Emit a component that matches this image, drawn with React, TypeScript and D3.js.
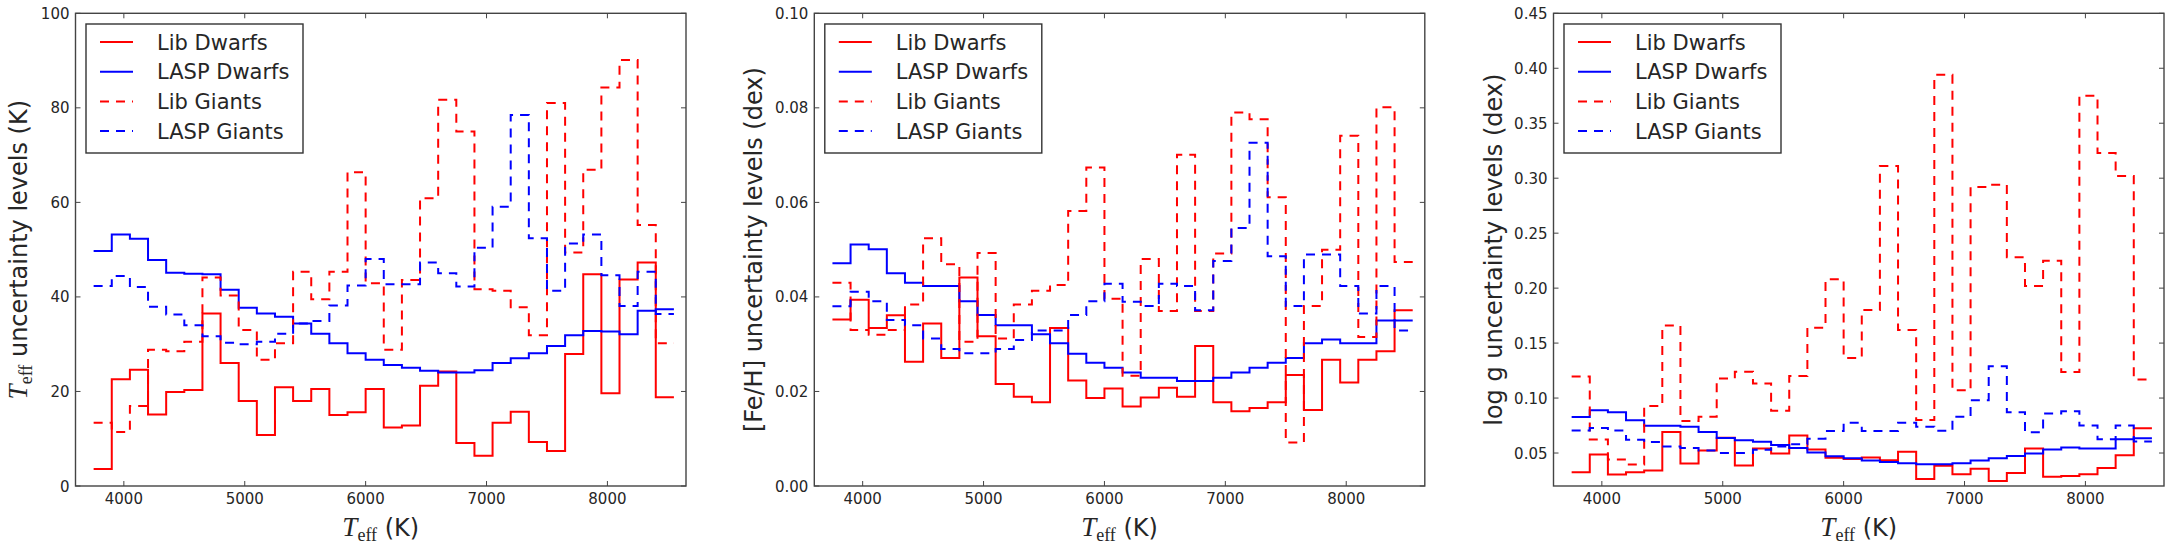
import * as d3 from "d3"

// bin edges (K) shared by all three panels
const TEFF_EDGES = [
  3750, 3900, 4050, 4200, 4350, 4500, 4650, 4800, 4950, 5100, 5250, 5400, 5550,
  5700, 5850, 6000, 6150, 6300, 6450, 6600, 6750, 6900, 7050, 7200, 7350, 7500,
  7650, 7800, 7950, 8100, 8250, 8400, 8550,
]
const X_TICKS = [4000, 5000, 6000, 7000, 8000]

// Teff panel (K)
const libDwarfsTeff = [3.6, 22.6, 24.6, 15.1, 19.9, 20.3, 36.5, 26.0, 18.0, 10.8, 20.9, 18.0, 20.5, 15.0, 15.6, 20.5, 12.4, 12.8, 21.2, 24.2, 9.1, 6.4, 13.4, 15.7, 9.3, 7.4, 27.9, 44.8, 19.6, 43.7, 47.3, 18.8]
const laspDwarfsTeff = [49.7, 53.2, 52.3, 47.8, 45.1, 44.9, 44.8, 41.5, 37.7, 36.5, 35.8, 34.4, 32.2, 30.2, 28.1, 26.7, 25.6, 25.0, 24.4, 24.0, 24.0, 24.5, 26.0, 27.0, 28.1, 29.6, 31.9, 32.8, 32.7, 32.1, 37.1, 37.4]
const libGiantsTeff = [13.4, 11.4, 16.9, 28.8, 28.5, 30.5, 44.1, 40.3, 33.0, 26.7, 30.2, 45.3, 39.5, 45.3, 66.4, 42.9, 28.8, 43.6, 60.9, 81.7, 75.0, 41.6, 41.3, 37.8, 31.9, 81.0, 49.4, 66.9, 84.3, 90.1, 55.2, 30.2]
const laspGiantsTeff = [42.3, 44.4, 42.1, 37.9, 36.3, 34.0, 31.7, 30.3, 30.0, 30.5, 32.2, 34.4, 34.9, 38.2, 42.4, 48.0, 42.7, 42.7, 47.3, 45.0, 42.2, 50.4, 59.1, 78.5, 52.4, 41.3, 51.3, 53.2, 44.6, 38.1, 45.3, 36.4]
const teffYTicks = [0, 20, 40, 60, 80, 100]

// [Fe/H] panel (dex)
const libDwarfsFeh = [0.0352, 0.0394, 0.0334, 0.0361, 0.0263, 0.0344, 0.0271, 0.0441, 0.0317, 0.0216, 0.0189, 0.0177, 0.0334, 0.0223, 0.0186, 0.0206, 0.0168, 0.0187, 0.0208, 0.0189, 0.0296, 0.0177, 0.0158, 0.0165, 0.0177, 0.0235, 0.0161, 0.0267, 0.0219, 0.0267, 0.0285, 0.0372]
const laspDwarfsFeh = [0.0471, 0.0511, 0.0501, 0.045, 0.043, 0.0423, 0.0423, 0.0391, 0.0362, 0.034, 0.034, 0.0321, 0.0302, 0.028, 0.0261, 0.025, 0.024, 0.0229, 0.0229, 0.0222, 0.0222, 0.0229, 0.024, 0.025, 0.0261, 0.0271, 0.0302, 0.031, 0.0302, 0.0302, 0.035, 0.035]
const libGiantsFeh = [0.043, 0.033, 0.032, 0.033, 0.0384, 0.0524, 0.0469, 0.0305, 0.0493, 0.0312, 0.0384, 0.0413, 0.0425, 0.0582, 0.0674, 0.0396, 0.0233, 0.048, 0.037, 0.0701, 0.037, 0.0492, 0.079, 0.0776, 0.0611, 0.0092, 0.0381, 0.05, 0.0741, 0.0315, 0.0801, 0.0474]
const laspGiantsFeh = [0.038, 0.0411, 0.0391, 0.0351, 0.034, 0.0312, 0.029, 0.0281, 0.0281, 0.029, 0.0309, 0.0329, 0.0329, 0.0362, 0.0391, 0.0428, 0.039, 0.0381, 0.0428, 0.0423, 0.0372, 0.0476, 0.0546, 0.0726, 0.0486, 0.0381, 0.049, 0.049, 0.0423, 0.0365, 0.0423, 0.0329]
const fehYTicks = [0, 0.02, 0.04, 0.06, 0.08, 0.1]

// log g panel (dex)
const libDwarfsLogg = [0.0324, 0.0487, 0.0305, 0.0326, 0.034, 0.0692, 0.0404, 0.0523, 0.064, 0.0387, 0.0542, 0.0495, 0.066, 0.0531, 0.0457, 0.0445, 0.046, 0.0435, 0.0512, 0.0264, 0.0384, 0.0307, 0.0356, 0.0245, 0.0318, 0.0542, 0.0284, 0.0291, 0.0307, 0.0364, 0.048, 0.0725]
const laspDwarfsLogg = [0.0827, 0.0888, 0.0872, 0.0798, 0.0747, 0.0747, 0.0738, 0.0692, 0.0636, 0.0616, 0.0603, 0.0573, 0.0546, 0.0505, 0.0471, 0.0453, 0.0433, 0.0418, 0.0407, 0.0398, 0.0398, 0.0407, 0.0433, 0.0452, 0.0472, 0.0495, 0.0531, 0.0551, 0.0541, 0.0541, 0.0626, 0.0634]
const libGiantsLogg = [0.1195, 0.0623, 0.0442, 0.0396, 0.0928, 0.166, 0.0792, 0.0829, 0.1178, 0.124, 0.1133, 0.0885, 0.1201, 0.164, 0.208, 0.1365, 0.18, 0.311, 0.162, 0.08, 0.394, 0.107, 0.292, 0.294, 0.228, 0.202, 0.225, 0.1238, 0.375, 0.323, 0.302, 0.1168]
const laspGiantsLogg = [0.0704, 0.0728, 0.0704, 0.062, 0.06, 0.056, 0.0545, 0.0523, 0.05, 0.05, 0.053, 0.056, 0.058, 0.063, 0.07, 0.0775, 0.07, 0.07, 0.0775, 0.074, 0.0703, 0.083, 0.098, 0.129, 0.087, 0.069, 0.086, 0.088, 0.075, 0.0625, 0.075, 0.0605]
const loggYTicks = [0.05, 0.1, 0.15, 0.2, 0.25, 0.3, 0.35, 0.4, 0.45]

const SERIES_NAMES = ["Lib Dwarfs", "LASP Dwarfs", "Lib Giants", "LASP Giants"]
const SERIES_COLORS = ["#ff0000", "#0000ff", "#ff0000", "#0000ff"]
const SERIES_DASHED = [false, false, true, true]

const W = 2170
const H = 545
const PANEL_W = 610.5
const TOP = 13.3
const BOTTOM = 486
const SANS = "DejaVu Sans, sans-serif"
const SERIF = "Liberation Serif, DejaVu Serif, serif"
const INK = "#262626"
const FRAME = "#444"
const DASH = "9,7"

interface PanelProps {
  left: number
  yDomain: [number, number]
  yTicks: number[]
  fmt: (v: number) => string
  series: number[][]
  ylabel: string
  teffLabel?: boolean
  labelGap: number
}

function Panel({ left, yDomain, yTicks, fmt, series, ylabel, teffLabel, labelGap }: PanelProps) {
  const x = d3.scaleLinear().domain([3600, 8650]).range([left, left + PANEL_W])
  const y = d3.scaleLinear().domain(yDomain).range([BOTTOM, TOP])
  const right = left + PANEL_W
  const cx = (left + right) / 2
  const cy = (TOP + BOTTOM) / 2

  const line = d3
    .line<[number, number]>()
    .x((d) => x(d[0]))
    .y((d) => y(d[1]))
    .curve(d3.curveStepAfter)

  const paths = series.map((vals) =>
    line(TEFF_EDGES.map((e, i) => [e, vals[Math.min(i, vals.length - 1)]] as [number, number]))
  )

  const lx = left + 10.5
  const ly = TOP + 10.7
  const rowY = (i: number) => TOP + 28.7 + i * 29.7

  return (
    <g>
      {/* data */}
      {paths.map((d, i) => (
        <path
          key={i}
          d={d ?? ""}
          fill="none"
          stroke={SERIES_COLORS[i]}
          strokeWidth={2}
          strokeDasharray={SERIES_DASHED[i] ? DASH : undefined}
        />
      ))}

      {/* frame */}
      <rect x={left} y={TOP} width={PANEL_W} height={BOTTOM - TOP} fill="none" stroke={FRAME} strokeWidth={1.4} />

      {/* x ticks */}
      {X_TICKS.map((t) => (
        <g key={t}>
          <line x1={x(t)} x2={x(t)} y1={BOTTOM} y2={BOTTOM - 5} stroke={FRAME} />
          <line x1={x(t)} x2={x(t)} y1={TOP} y2={TOP + 5} stroke={FRAME} />
          <text x={x(t)} y={504} textAnchor="middle" fontFamily={SANS} fontSize={15} fill={INK}>
            {t}
          </text>
        </g>
      ))}

      {/* y ticks */}
      {yTicks.map((t) => (
        <g key={t}>
          <line x1={left} x2={left + 5} y1={y(t)} y2={y(t)} stroke={FRAME} />
          <line x1={right} x2={right - 5} y1={y(t)} y2={y(t)} stroke={FRAME} />
          <text x={left - 6} y={y(t) + 5.5} textAnchor="end" fontFamily={SANS} fontSize={15} fill={INK}>
            {fmt(t)}
          </text>
        </g>
      ))}

      {/* x label */}
      <text x={cx} y={536} textAnchor="middle" fill={INK}>
        <tspan fontFamily={SERIF} fontStyle="italic" fontSize={27}>T</tspan>
        <tspan fontFamily={SERIF} fontSize={18} dy={5}>eff</tspan>
        <tspan fontFamily={SANS} fontSize={24} dy={-5}> (K)</tspan>
      </text>

      {/* y label */}
      <text transform={`translate(${left - labelGap},${cy}) rotate(-90)`} textAnchor="middle" fill={INK}>
        {teffLabel && (
          <>
            <tspan fontFamily={SERIF} fontStyle="italic" fontSize={27}>T</tspan>
            <tspan fontFamily={SERIF} fontSize={18} dy={5}>eff</tspan>
            <tspan fontFamily={SANS} fontSize={24} dy={-5}>{" " + ylabel}</tspan>
          </>
        )}
        {!teffLabel && (
          <tspan fontFamily={SANS} fontSize={24}>{ylabel}</tspan>
        )}
      </text>

      {/* legend */}
      <rect x={lx} y={ly} width={217} height={129} fill="white" stroke="#333" strokeWidth={1.4} />
      {SERIES_NAMES.map((name, i) => (
        <g key={name}>
          <line
            x1={left + 24.5}
            x2={left + 57.5}
            y1={rowY(i)}
            y2={rowY(i)}
            stroke={SERIES_COLORS[i]}
            strokeWidth={2}
            strokeDasharray={SERIES_DASHED[i] ? DASH : undefined}
          />
          <text x={left + 81.5} y={rowY(i) + 7.5} fontFamily={SANS} fontSize={21} fill={INK}>
            {name}
          </text>
        </g>
      ))}
    </g>
  )
}

export default function App() {
  return (
    <svg
      width={W}
      height={H}
      viewBox={`0 0 ${W} ${H}`}
      style={{ position: "absolute", left: 0, top: 0, background: "white" }}
    >
      <rect width={W} height={H} fill="white" />
      <Panel
        left={75.5}
        yDomain={[0, 100]}
        yTicks={teffYTicks}
        fmt={(v) => d3.format("d")(v)}
        series={[libDwarfsTeff, laspDwarfsTeff, libGiantsTeff, laspGiantsTeff]}
        ylabel="uncertainty levels (K)"
        teffLabel
        labelGap={49}
      />
      <Panel
        left={814.3}
        yDomain={[0, 0.1]}
        yTicks={fehYTicks}
        fmt={(v) => d3.format(".2f")(v)}
        series={[libDwarfsFeh, laspDwarfsFeh, libGiantsFeh, laspGiantsFeh]}
        ylabel="[Fe/H] uncertainty levels (dex)"
        labelGap={52}
      />
      <Panel
        left={1553.5}
        yDomain={[0.02, 0.45]}
        yTicks={loggYTicks}
        fmt={(v) => d3.format(".2f")(v)}
        series={[libDwarfsLogg, laspDwarfsLogg, libGiantsLogg, laspGiantsLogg]}
        ylabel="log g uncertainty levels (dex)"
        labelGap={52}
      />
    </svg>
  )
}
